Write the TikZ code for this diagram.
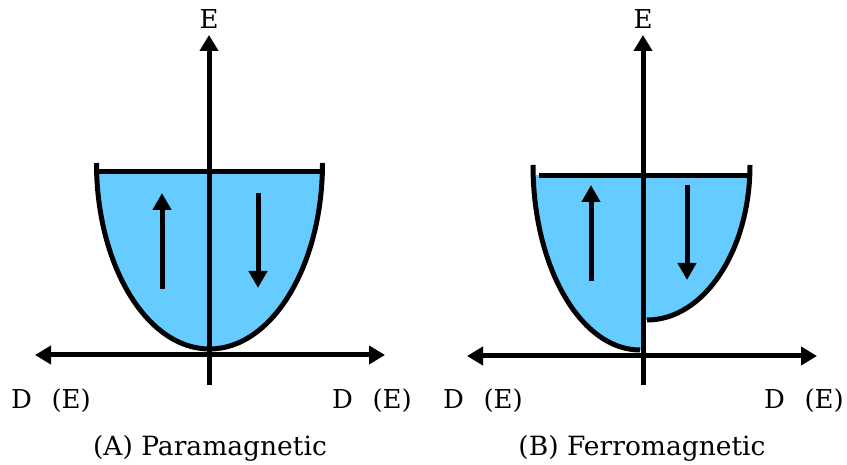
\documentclass[tikz,border=0pt]{standalone}
\usepackage{fontspec}
\setmainfont{DejaVu Serif}
\usetikzlibrary{arrows.meta}
\definecolor{bandblue}{RGB}{102,204,255}
\begin{document}
\begin{tikzpicture}[x=1pt,y=1pt,
  axis/.style={line width=5pt,-{Triangle[width=18pt,length=16pt]}},
  daxis/.style={line width=5pt,{Triangle[width=18pt,length=16pt]}-{Triangle[width=18pt,length=16pt]}},
  spin/.style={line width=5pt,-{Triangle[width=18pt,length=17pt]}},
  curve/.style={line width=5pt},
  band/.style={fill=bandblue},
  lbl/.style={font=\fontsize{26}{30}\selectfont,inner sep=0pt,anchor=base},
  captext/.style={font=\fontsize{26.5}{30}\selectfont,inner sep=0pt,anchor=base}]
\useasboundingbox (0,0) rectangle (847,465);
% ---------- Panel A ----------
\begin{scope}
\clip (0,0) rectangle (847,293);
\fill[band] (96.5,302) arc[start angle=180,end angle=360,x radius=113,y radius=186] -- cycle;
\end{scope}
\draw[curve] (96.5,302) arc[start angle=180,end angle=360,x radius=113,y radius=186];
\coordinate (aTL) at (97,293); \coordinate (aTR) at (322,293);
\draw[line width=5pt] (aTL) -- (aTR);
\coordinate (aVb) at (209,80); \coordinate (aVt) at (209,430);
\coordinate (aHl) at (35,110); \coordinate (aHr) at (385,110);
\draw[axis] (aVb) -- (aVt);
\draw[daxis] (aHl) -- (aHr);
\coordinate (aU0) at (162,176); \coordinate (aU1) at (162,272);
\coordinate (aD0) at (258,272); \coordinate (aD1) at (258,177);
\draw[spin] (aU0) -- (aU1);
\draw[spin] (aD0) -- (aD1);
\node[lbl] (aE) at (209,436) {E};
\node[lbl] (aDl) at (51,56) {D\hspace{0.75em}(E)};
\node[lbl] (aDr) at (372,56) {D\hspace{0.75em}(E)};
\node[captext] (aCap) at (210,9) {(A) Paramagnetic};
% ---------- Panel B ----------
\begin{scope}
\clip (0,0) rectangle (847,289);
\fill[band] (533,300) arc[start angle=180,end angle=270,x radius=107,y radius=185] -- (643,115) -- (643,300) -- cycle;
\fill[band] (750,300) arc[start angle=0,end angle=-90,x radius=103,y radius=155] -- (643,145) -- (643,300) -- cycle;
\end{scope}
\draw[curve] (533,300) arc[start angle=180,end angle=270,x radius=107,y radius=185];
\draw[curve] (750,300) arc[start angle=0,end angle=-90,x radius=103,y radius=155];
\coordinate (bTL) at (539,289); \coordinate (bTR) at (749,289);
\draw[line width=5pt] (bTL) -- (bTR);
\coordinate (bVb) at (643,80); \coordinate (bVt) at (643,430);
\coordinate (bHl) at (467,109); \coordinate (bHr) at (817,109);
\draw[axis] (bVb) -- (bVt);
\draw[daxis] (bHl) -- (bHr);
\coordinate (bU0) at (591,184); \coordinate (bU1) at (591,280);
\coordinate (bD0) at (687,280); \coordinate (bD1) at (687,185);
\draw[spin] (bU0) -- (bU1);
\draw[spin] (bD0) -- (bD1);
\node[lbl] (bE) at (643,436) {E};
\node[lbl] (bDl) at (483,56) {D\hspace{0.75em}(E)};
\node[lbl] (bDr) at (804,56) {D\hspace{0.75em}(E)};
\node[captext] (bCap) at (642,9) {(B) Ferromagnetic};
\end{tikzpicture}
\end{document}
